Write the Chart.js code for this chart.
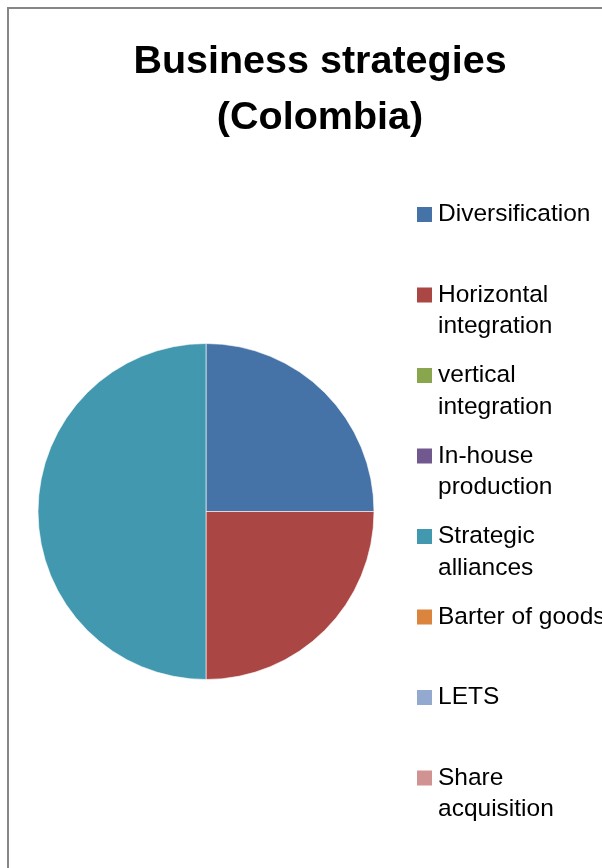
<!DOCTYPE html>
<html>
<head>
<meta charset="utf-8">
<script src="https://cdn.jsdelivr.net/npm/chart.js@4.4.1/dist/chart.umd.min.js"></script>
<style>
  html, body { margin: 0; padding: 0; background: #ffffff; overflow: hidden; width: 602px; height: 868px; }
  #frame { position: absolute; left: 7px; top: 7px; border-left: 2px solid #868686; border-top: 2px solid #868686; width: 622px; height: 870px; background: #fff; }
  canvas { display: block; }
</style>
</head>
<body>
<div id="frame"><canvas id="c" width="622" height="870"></canvas></div>
<script>
// ---- data ----
const titleLines = ["Business strategies", "(Colombia)"];
const categories = [
  ["Diversification"],
  ["Horizontal", "integration"],
  ["vertical", "integration"],
  ["In-house", "production"],
  ["Strategic", "alliances"],
  ["Barter of goods"],
  ["LETS"],
  ["Share", "acquisition"]
];
const shares = [25, 25, 0, 0, 50, 0, 0, 0];
const sliceColors = ["#4572A7", "#AA4643", "#89A54E", "#71588F", "#4198AF", "#DB843D", "#93A9CF", "#D19392"];

const FONT = "'Liberation Sans', Arial, sans-serif";

// side legend as a layout box (reserves room on the right)
const sideLegend = {
  id: 'sideLegend',
  beforeInit(chart) {
    const box = {
      position: 'right', weight: 1000, fullSize: false, options: {},
      left: 0, top: 0, right: 0, bottom: 0, width: 0, height: 0,
      isHorizontal() { return false; },
      update(maxWidth, maxHeight) { this.width = 228; this.height = maxHeight; },
      draw() {
        const ctx = chart.ctx;
        const ds = chart.data.datasets[0];
        ctx.save();
        ctx.font = "24.5px " + FONT;
        ctx.textBaseline = 'alphabetic';
        ctx.textAlign = 'left';
        chart.data.labels.forEach((lab, i) => {
          const base = 212 + 80.5 * i;
          ctx.fillStyle = ds.backgroundColor[i];
          ctx.fillRect(this.left + 14, base - 14, 15, 15);
          ctx.fillStyle = '#000000';
          const lines = Array.isArray(lab) ? lab : [lab];
          lines.forEach((ln, j) => ctx.fillText(ln, this.left + 35, base + 31.5 * j));
        });
        ctx.restore();
      }
    };
    Chart.layouts.addBox(chart, box);
  }
};

new Chart(document.getElementById('c'), {
  type: 'pie',
  data: {
    labels: categories,
    datasets: [{
      data: shares,
      backgroundColor: sliceColors,
      borderColor: 'rgba(255,255,255,0.6)',
      borderWidth: 1
    }]
  },
  options: {
    responsive: false,
    animation: false,
    devicePixelRatio: 1,
    layout: { padding: { top: 0, left: 0, right: 0, bottom: 199 } },
    plugins: {
      legend: { display: false },
      tooltip: { enabled: false },
      title: {
        display: true,
        text: titleLines,
        color: '#000000',
        font: { family: FONT, size: 39.5, weight: 'bold', lineHeight: 56 / 39.5 },
        padding: { top: 25, bottom: 197 }
      }
    }
  },
  plugins: [sideLegend]
});
</script>
</body>
</html>
